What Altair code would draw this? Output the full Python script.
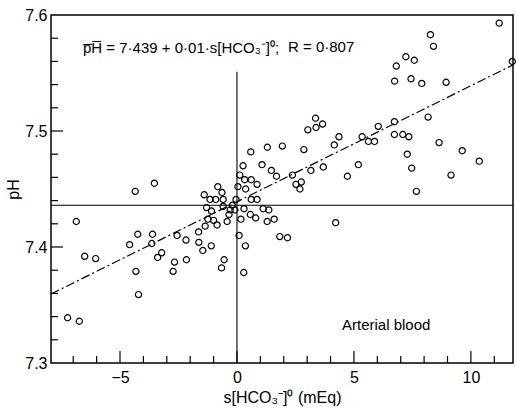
import altair as alt
import pandas as pd

# ---- data ----
s_hco3 = [-4.35, -3.53, -6.87, -4.24, -3.61, -4.59, -3.64, -2.56, -2.18, -6.51,
          -6.04, -3.39, -3.22, -4.32, -2.67, -2.73, -2.16, -4.21, -7.24, -6.74,
          0.59, 1.30, 1.94, 0.26, 1.07, 1.47, 1.69, 2.37, 2.52, 0.12,
          0.33, 0.61, 0.86, 0.04, 0.37, -0.82, -0.64, -1.40, -1.15, -0.91,
          -0.59, -0.04, 0.61, 0.86, -0.20, -1.30, -1.09, -0.59, -0.29, -0.09,
          0.30, 1.12, 1.36, -0.34, 0.57, 0.80, -1.24, -1.00, -0.42, 0.17,
          1.29, 1.59, -0.85, -1.36, -1.64, -1.63, -1.10, -1.46, 0.09, 0.36,
          1.83, 2.16, -0.55, -0.66, 0.29, 3.36, 3.03, 3.38, 3.66, 2.86,
          4.16, 4.36, 5.35, 5.62, 5.88, 6.04, 6.73, 6.73, 7.09, 7.35,
          7.28, 2.75, 2.69, 3.16, 3.69, 4.72, 5.19, 4.22, 11.21, 8.27,
          8.40, 7.22, 7.58, 6.81, 6.74, 7.44, 7.90, 8.94, 11.77, 8.17,
          8.64, 9.63, 10.36, 7.47, 9.15, 7.67]
ph = [7.448, 7.455, 7.422, 7.411, 7.411, 7.402, 7.403, 7.410, 7.406, 7.392,
      7.390, 7.391, 7.395, 7.379, 7.387, 7.379, 7.389, 7.359, 7.339, 7.336,
      7.482, 7.486, 7.487, 7.470, 7.471, 7.466, 7.461, 7.462, 7.454, 7.462,
      7.458, 7.458, 7.454, 7.452, 7.450, 7.452, 7.447, 7.445, 7.441, 7.441,
      7.441, 7.441, 7.441, 7.441, 7.436, 7.434, 7.431, 7.435, 7.432, 7.432,
      7.433, 7.433, 7.432, 7.428, 7.428, 7.425, 7.424, 7.423, 7.422, 7.424,
      7.422, 7.424, 7.419, 7.418, 7.413, 7.404, 7.401, 7.397, 7.410, 7.401,
      7.409, 7.408, 7.389, 7.382, 7.378, 7.511, 7.501, 7.503, 7.506, 7.484,
      7.488, 7.495, 7.495, 7.491, 7.491, 7.504, 7.508, 7.497, 7.497, 7.495,
      7.480, 7.456, 7.450, 7.466, 7.469, 7.461, 7.471, 7.421, 7.593, 7.583,
      7.573, 7.564, 7.561, 7.556, 7.543, 7.545, 7.541, 7.542, 7.560, 7.512,
      7.490, 7.483, 7.474, 7.468, 7.462, 7.448]

intercept = 7.439
slope = 0.01
mean_ph = 7.436
x_domain = [-7.95, 11.8]
y_domain = [7.3, 7.6]
vline_top = 7.551

x_major = [-5, 0, 5, 10]
x_minor = [-7, -6, -4, -3, -2, -1, 1, 2, 3, 4, 6, 7, 8, 9, 11]
y_major = [7.4, 7.5]
y_minor = [7.32, 7.34, 7.36, 7.38, 7.42, 7.44, 7.46, 7.48, 7.52, 7.54, 7.56, 7.58]
y_labels = [7.3, 7.4, 7.5, 7.6]

FONT = "Liberation Sans"
W, H = 462, 348

xs = alt.Scale(domain=x_domain, nice=False, zero=False)
ys = alt.Scale(domain=y_domain, nice=False, zero=False)

x_axis = alt.Axis(values=x_major, title="s[HCO₃⁻]⁰ (mEq)",
                  labelPadding=6, titleY=34, titleBaseline="middle")
y_axis = alt.Axis(values=y_labels, format=".1f", title="pH",
                  labelPadding=4, titleX=-38, titleY=H / 2,
                  titleAngle=-90, titleBaseline="middle", titleAlign="center")

pts_df = pd.DataFrame({"x": s_hco3, "ph": ph})
reg_df = pd.DataFrame({"x": x_domain,
                       "ph": [intercept + slope * v for v in x_domain]})

points = alt.Chart(pts_df).mark_point(
    shape="circle", filled=False, color="black", size=38, strokeWidth=1.2,
    opacity=1, clip=False
).encode(
    x=alt.X("x:Q", scale=xs, axis=x_axis),
    y=alt.Y("ph:Q", scale=ys, axis=y_axis),
)

reg = alt.Chart(reg_df).mark_line(
    color="black", strokeWidth=1.2, strokeDash=[9, 3, 2, 3]
).encode(x=alt.X("x:Q", scale=xs, axis=x_axis),
         y=alt.Y("ph:Q", scale=ys, axis=y_axis))

hline = alt.Chart(pd.DataFrame({"ph": [mean_ph]})).mark_rule(
    color="black", strokeWidth=1.1
).encode(y=alt.Y("ph:Q", scale=ys, axis=y_axis))

vline = alt.Chart(pd.DataFrame({"x": [0], "y1": [y_domain[0]], "y2": [vline_top]})).mark_rule(
    color="black", strokeWidth=1.1
).encode(x=alt.X("x:Q", scale=xs, axis=x_axis),
         y=alt.Y("y1:Q", scale=ys, axis=y_axis), y2="y2:Q")


def yticks(vals, length):
    return alt.Chart(pd.DataFrame({"v": vals})).mark_rule(
        color="black", strokeWidth=1.2
    ).encode(y=alt.Y("v:Q", scale=ys, axis=y_axis),
             x=alt.value(0), x2=alt.value(length))


def xticks(vals, length):
    return alt.Chart(pd.DataFrame({"v": vals})).mark_rule(
        color="black", strokeWidth=1.2
    ).encode(x=alt.X("v:Q", scale=xs, axis=x_axis),
             y=alt.value(H), y2=alt.value(H - length))


def label(text, px, py, size=15, align="left"):
    return alt.Chart(pd.DataFrame({"t": [text]})).mark_text(
        font=FONT, fontSize=size, color="black", align=align, baseline="middle"
    ).encode(x=alt.value(px), y=alt.value(py), text="t:N")


eq = label("p̅H̅ = 7·439 + 0·01·s[HCO₃⁻]⁰;", 32, 33)
rtxt = label("R = 0·807", 237, 32)
blood = label("Arterial blood", 291, 310)

chart = alt.layer(
    points, reg, hline, vline,
    yticks(y_major, 12), yticks(y_minor, 7),
    xticks(x_major, 12), xticks(x_minor, 7),
    eq, rtxt, blood
).properties(
    width=W, height=H,
    padding={"left": 51, "top": 15, "right": 3, "bottom": 45},
    autosize=alt.AutoSizeParams(type="none"),
    background="white",
).configure_view(
    stroke="black", strokeWidth=1.5
).configure_axis(
    domain=False, ticks=False, tickSize=0, grid=False,
    labelFont=FONT, labelFontSize=16, labelColor="black",
    titleFont=FONT, titleFontSize=16, titleColor="black",
    titleFontWeight="normal",
)

chart.save("out.html", embed_options={"renderer": "svg", "actions": False})
